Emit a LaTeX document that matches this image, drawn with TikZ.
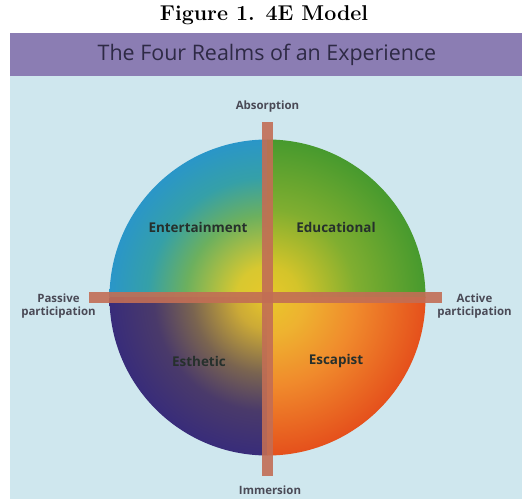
\documentclass[tikz,border=0pt]{standalone}
\usepackage{fontspec}
\newfontfamily\sans{Open Sans}
\definecolor{bandcol}{HTML}{8B7DB3}
\definecolor{panelcol}{HTML}{CFE7EE}
\definecolor{bandtext}{HTML}{2E2A45}
\definecolor{barcol}{HTML}{C26E55}
\definecolor{axistext}{HTML}{4A4A56}
\definecolor{quadtext}{HTML}{26302C}
\definecolor{cY}{HTML}{E8C82A}
\definecolor{tlA}{HTML}{D8C830}
\definecolor{tlB}{HTML}{6CB05E}
\definecolor{tlC}{HTML}{35A0A8}
\definecolor{tlD}{HTML}{2A96C8}
\definecolor{trA}{HTML}{D4C42A}
\definecolor{trB}{HTML}{80AE30}
\definecolor{trC}{HTML}{479A2E}
\definecolor{blA}{HTML}{CCAA36}
\definecolor{blB}{HTML}{7A6450}
\definecolor{blC}{HTML}{4A3A6A}
\definecolor{blD}{HTML}{382C7A}
\definecolor{brA}{HTML}{EEB230}
\definecolor{brB}{HTML}{F08A2C}
\definecolor{brC}{HTML}{E5501C}
\pgfdeclareradialshading{tlshade}{\pgfpoint{0bp}{0bp}}{color(0bp)=(cY); color(5bp)=(tlA); color(13bp)=(tlB); color(19bp)=(tlC); color(25bp)=(tlD); color(50bp)=(tlD)}
\pgfdeclareradialshading{trshade}{\pgfpoint{0bp}{0bp}}{color(0bp)=(cY); color(5bp)=(trA); color(14bp)=(trB); color(25bp)=(trC); color(50bp)=(trC)}
\pgfdeclareradialshading{blshade}{\pgfpoint{0bp}{0bp}}{color(0bp)=(cY); color(5bp)=(blA); color(12bp)=(blB); color(18bp)=(blC); color(25bp)=(blD); color(50bp)=(blD)}
\pgfdeclareradialshading{brshade}{\pgfpoint{0bp}{0bp}}{color(0bp)=(cY); color(6bp)=(brA); color(14bp)=(brB); color(25bp)=(brC); color(50bp)=(brC)}
\tikzset{
  figtitle/.style={font=\bfseries\fontsize{21.5}{24}\selectfont, text=black, inner sep=0pt},
  bandtitle/.style={font=\sans\fontsize{21.5}{25}\selectfont, text=bandtext, inner sep=0pt},
  axislabel/.style={font=\sans\bfseries\fontsize{11.5}{14}\selectfont, text=axistext, align=center, inner sep=0pt},
  quadlabel/.style={font=\sans\bfseries\fontsize{13.5}{16}\selectfont, text=quadtext, inner sep=0pt},
  barstyle/.style={fill=barcol, draw=none, inner sep=0pt, opacity=0.9}
}
\begin{document}
\begin{tikzpicture}[x=1bp,y=-1bp]
\useasboundingbox (0,0) rectangle (522,499);
\fill[white] (0,0) rectangle (522,499);
\fill[bandcol] (10,33) rectangle (522,76);
\fill[panelcol] (10,76) rectangle (522,499);
\node[figtitle] (fig) at (264,15) {Figure 1. 4E Model};
\node[bandtitle] (band) at (267,55) {The Four Realms of an Experience};
\coordinate (c) at (267.5,297.5);
\begin{scope}
  \clip (c) circle (158);
  \begin{scope}\clip (c) rectangle ++(-170,-170); \shade[shading=tlshade] (c) circle (158); \end{scope}
  \begin{scope}\clip (c) rectangle ++(170,-170); \shade[shading=trshade] (c) circle (158); \end{scope}
  \begin{scope}\clip (c) rectangle ++(-170,170); \shade[shading=blshade] (c) circle (158); \end{scope}
  \begin{scope}\clip (c) rectangle ++(170,170); \shade[shading=brshade] (c) circle (158); \end{scope}
\end{scope}
\node[barstyle, minimum width=11bp, minimum height=354bp] (vbar) at (267.5,299) {};
\node[barstyle, minimum width=353bp, minimum height=11bp] (hbar) at (265.5,297.5) {};
\node[axislabel] (abs) at (267.5,107) {Absorption};
\node[axislabel] (imm) at (270,490) {Immersion};
\node[axislabel] (pas) at (58.5,306) {Passive\\participation};
\node[axislabel] (act) at (474.5,306) {Active\\participation};
\node[quadlabel] (ent) at (198,227) {Entertainment};
\node[quadlabel] (edu) at (336,227) {Educational};
\node[quadlabel] (est) at (199,361) {Esthetic};
\node[quadlabel] (esc) at (336,361) {Escapist};
\end{tikzpicture}
\end{document}
